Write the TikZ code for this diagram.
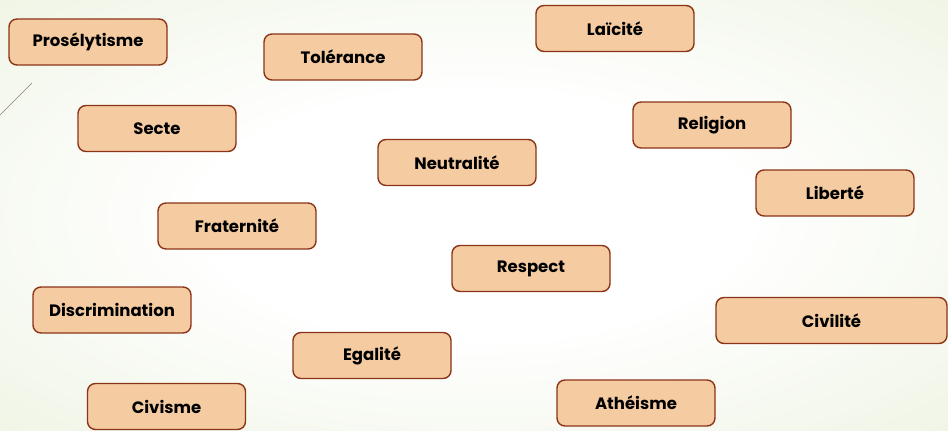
\documentclass[tikz,border=0pt]{standalone}
\usepackage{fontspec}
\setmainfont{Poppins}
\definecolor{boxfill}{RGB}{245,204,162}
\definecolor{boxline}{RGB}{140,52,24}
\definecolor{bgcorner}{RGB}{216,229,190}
\pgfdeclareradialshading{bgglow}{\pgfpoint{0bp}{0bp}}{color(0bp)=(white); color(14bp)=(white); color(70bp)=(bgcorner)}

\begin{document}
\begin{tikzpicture}[x=1pt,y=-1pt]
\tikzstyle{word} = [rectangle, draw=boxline, line width=1.4pt, fill=boxfill,
rounded corners=8pt, minimum width=158pt, minimum height=46pt,
font=\fontsize{16.5}{19}\selectfont\bfseries, text=black]
\tikzstyle{wideword} = [word, minimum width=231pt]

% background
\shade[shading=bgglow] (0,0) rectangle (948,431);
\useasboundingbox (0,0) rectangle (948,431);
\draw[gray!70!brown, line width=0.6pt] (0,115) -- (32,83);

% top
\node [word] (laicite) at (615,28.5) {Laïcité};
\node [word] (proselytisme) at (88,42) {Prosélytisme};
\node [word] (tolerance) at (343,57) {Tolérance};
% upper middle
\node [word] (religion) at (712,125) {Religion};
\node [word] (secte) at (157,128.5) {Secte};
\node [word] (neutralite) at (457,162.5) {Neutralité};
\node [word] (liberte) at (835,193) {Liberté};
% lower middle
\node [word] (fraternite) at (237,226) {Fraternité};
\node [word] (respect) at (531,268.5) {Respect};
\node [word] (discrimination) at (112,310) {Discrimination};
\node [wideword] (civilite) at (831.5,320.5) {Civilité};
% bottom
\node [word] (egalite) at (372,355.5) {Egalité};
\node [word] (atheisme) at (636,403) {Athéisme};
\node [word] (civisme) at (166.5,406.5) {Civisme};

\end{tikzpicture}
\end{document}
